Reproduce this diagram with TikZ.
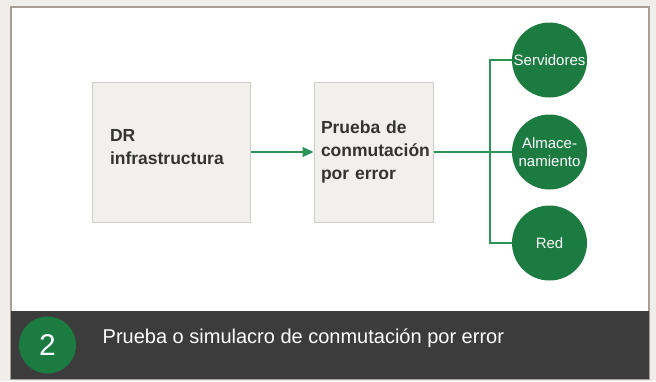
\documentclass[tikz,border=0pt]{standalone}
\usepackage{fontspec}
\setmainfont{Liberation Sans}
\usetikzlibrary{arrows.meta}

\definecolor{drgreen}{HTML}{1B7B40}
\definecolor{linegreen}{HTML}{2B9355}
\definecolor{boxfill}{HTML}{F1F0EC}
\definecolor{boxline}{HTML}{CFCDC9}
\definecolor{pagebg}{HTML}{F0EEEA}
\definecolor{framecol}{HTML}{A79E96}
\definecolor{barcol}{HTML}{3C3C3C}

\tikzset{
  stepbox/.style={draw=boxline, fill=boxfill, line width=1bp, align=left,
    minimum height=140bp, font=\fontsize{17.5bp}{23bp}\selectfont\bfseries,
    text=black!80},
  partdisc/.style={circle, fill=drgreen, minimum size=75bp, inner sep=0pt,
    align=center, text=white, font=\fontsize{15bp}{18bp}\selectfont},
  wire/.style={draw=linegreen, line width=1.3bp}
}

\begin{document}
\begin{tikzpicture}[x=1bp, y=-1bp]
        \fill[pagebg] (0, 0) rectangle (656, 381);
        \draw[framecol, line width=1.5bp, fill=white] (11, 7) rectangle (649, 379);
        \fill[barcol] (11, 311) rectangle (649, 379);

        \node[stepbox, text width=122bp, inner xsep=18bp, text depth=33bp] (dr) at (171, 152) {DR\\infrastructura};
        \node[stepbox, text width=105bp, inner xsep=7bp] (fail) at (373.5, 152) {Prueba de\\conmutación\\por error};

        \node[partdisc] (serv) at (549.5, 60) {Servidores};
        \node[partdisc] (store) at (549.5, 152) {Almace-\\namiento};
        \node[partdisc] (net) at (549.5, 243) {Red};
        \coordinate (hub) at (490, 152);

        \draw[wire, -{Triangle[length=11bp, width=10bp]}] (dr) -- (fail);
        \draw[wire] (fail) -- (store);
        \draw[wire] (serv.west) -| (hub) |- (net.west);

        \node[circle, fill=drgreen, minimum size=57bp, text=white, font=\fontsize{30bp}{30bp}\selectfont] (num) at (47.5, 345) {2};
        \node[anchor=base west, text=white, inner sep=0pt, font=\fontsize{20bp}{22bp}\selectfont] (cap) at (102.5, 343) {Prueba o simulacro de conmutación por error};
\end{tikzpicture}
\end{document}
